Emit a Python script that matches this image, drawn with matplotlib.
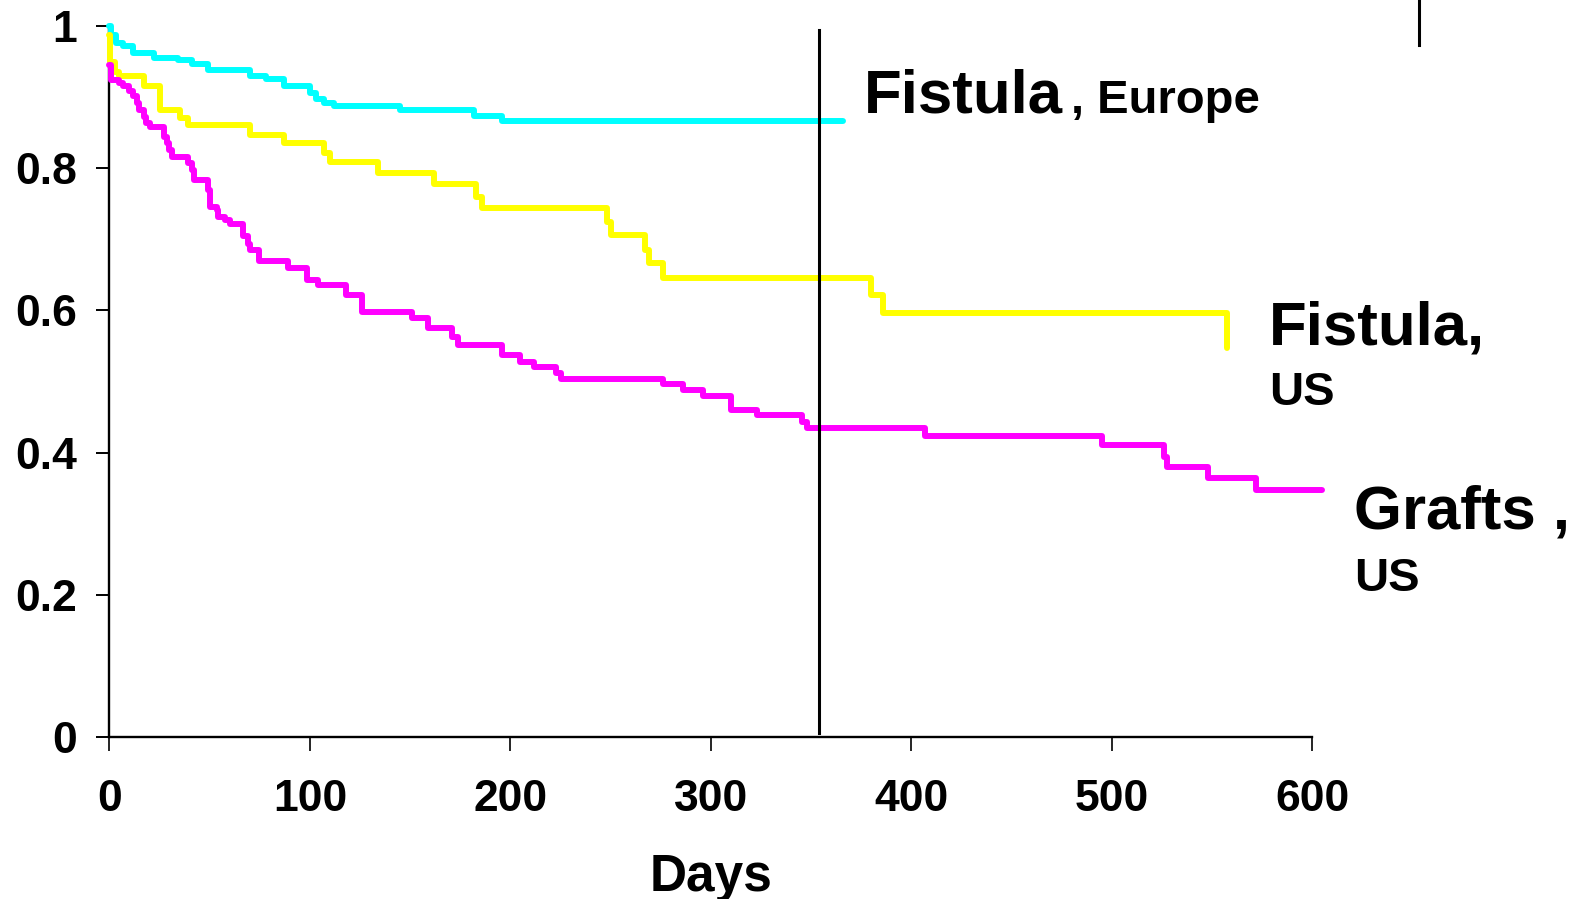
import matplotlib
matplotlib.use("Agg")
import matplotlib.pyplot as plt
from matplotlib.lines import Line2D

plt.rcParams['font.family'] = ['Liberation Sans', 'DejaVu Sans']
plt.rcParams['font.weight'] = 'bold'

# Kaplan-Meier style step data (time in days, survival after step)
europe_fistula_t = [0, 1, 3.5, 7, 12, 22, 34, 41, 49, 70, 78, 87, 100, 103, 107, 112, 145, 182, 196, 366]
europe_fistula_s = [1.0, 0.987, 0.976, 0.972, 0.962, 0.955, 0.952, 0.947, 0.938, 0.930, 0.926, 0.915,
                    0.906, 0.897, 0.891, 0.887, 0.882, 0.873, 0.866, 0.866]

us_fistula_t = [0, 0.5, 3, 5, 17, 25, 35, 39, 70, 87, 107, 110, 134, 162, 183, 186, 248, 250, 267, 269,
                276, 380, 386, 557.5]
us_fistula_s = [0.987, 0.95, 0.935, 0.929, 0.916, 0.882, 0.870, 0.861, 0.847, 0.836, 0.821, 0.808, 0.793,
                0.778, 0.759, 0.744, 0.725, 0.706, 0.685, 0.666, 0.645, 0.622, 0.596, 0.547]

us_grafts_t = [0, 1, 5, 7, 10, 12, 14, 15, 17, 18, 20, 27, 28.5, 29.5, 31, 39, 41, 42, 49, 50, 53.5, 54,
               57.5, 60, 66.5, 69, 70, 74.5, 89, 98.5, 104, 118, 126, 151, 159, 171, 174, 196, 205, 212,
               223, 225, 276, 286, 296, 310, 323, 345.5, 348, 407, 495, 526, 527.5, 548, 572, 605]
us_grafts_s = [0.945, 0.924, 0.92, 0.915, 0.908, 0.901, 0.891, 0.882, 0.872, 0.863, 0.858, 0.844, 0.835,
               0.826, 0.816, 0.807, 0.797, 0.783, 0.769, 0.746, 0.741, 0.732, 0.727, 0.722, 0.704, 0.694,
               0.685, 0.670, 0.659, 0.643, 0.636, 0.622, 0.598, 0.589, 0.575, 0.563, 0.551, 0.537, 0.528,
               0.521, 0.512, 0.504, 0.497, 0.488, 0.479, 0.460, 0.453, 0.443, 0.434, 0.423, 0.411, 0.394,
               0.380, 0.364, 0.348, 0.348]

cutoff_day = 354
x_ticks = [0, 100, 200, 300, 400, 500, 600]
y_ticks = [0, 0.2, 0.4, 0.6, 0.8, 1]
y_tick_labels = ['0', '0.2', '0.4', '0.6', '0.8', '1']

fig = plt.figure(figsize=(15.79, 8.99), dpi=100)
ax = fig.add_axes([0.0693, 0.1802, 0.7618, 0.7909])

lw = 4.3
ax.plot(europe_fistula_t, europe_fistula_s, drawstyle='steps-post', color='#00FFFF', lw=lw,
        solid_capstyle='round', clip_on=False, zorder=3)
ax.plot(us_fistula_t, us_fistula_s, drawstyle='steps-post', color='#FFFF00', lw=lw,
        solid_capstyle='round', clip_on=False, zorder=3)
ax.plot(us_grafts_t, us_grafts_s, drawstyle='steps-post', color='#FF00FF', lw=lw,
        solid_capstyle='round', clip_on=False, zorder=3)

ax.plot([cutoff_day, cutoff_day], [0.006, 0.994], color='black', lw=2.2, zorder=4, clip_on=False)

ax.set_xlim(0, 600)
ax.set_ylim(0, 1)
ax.set_xticks(x_ticks)
ax.set_xticklabels([str(v) for v in x_ticks])
ax.set_yticks(y_ticks)
ax.set_yticklabels(y_tick_labels)
for s in ['top', 'right']:
    ax.spines[s].set_visible(False)
for s in ['left', 'bottom']:
    ax.spines[s].set_linewidth(1.7)
ax.tick_params(axis='y', direction='out', length=9.5, width=1.4, pad=14, labelsize=32)
ax.tick_params(axis='x', direction='out', length=10, width=1.2, pad=20, labelsize=32)
for lab in ax.get_xticklabels() + ax.get_yticklabels():
    lab.set_fontweight('bold')

ax.set_xlabel('Days', fontsize=37, fontweight='bold', labelpad=24)

big = 44.5
small = 34
ax.text(376.5, 0.878, 'Fistula', fontsize=big, fontweight='bold', va='baseline', ha='left', clip_on=False)
ax.text(479.5, 0.878, ', Europe', fontsize=small, fontweight='bold', va='baseline', ha='left', clip_on=False)
ax.text(578.5, 0.552, 'Fistula,', fontsize=big, fontweight='bold', va='baseline', ha='left', clip_on=False)
ax.text(578.5, 0.467, 'US', fontsize=small, fontweight='bold', va='baseline', ha='left', clip_on=False)
ax.text(621, 0.293, 'Grafts ,', fontsize=big, fontweight='bold', va='baseline', ha='left', clip_on=False)
ax.text(621, 0.205, 'US', fontsize=small, fontweight='bold', va='baseline', ha='left', clip_on=False)

fig.add_artist(Line2D([1419.3 / 1579, 1419.3 / 1579], [1.0, 1 - 45 / 899], color='black', lw=2.2,
                      transform=fig.transFigure))

fig.savefig('out.png', dpi=100)
